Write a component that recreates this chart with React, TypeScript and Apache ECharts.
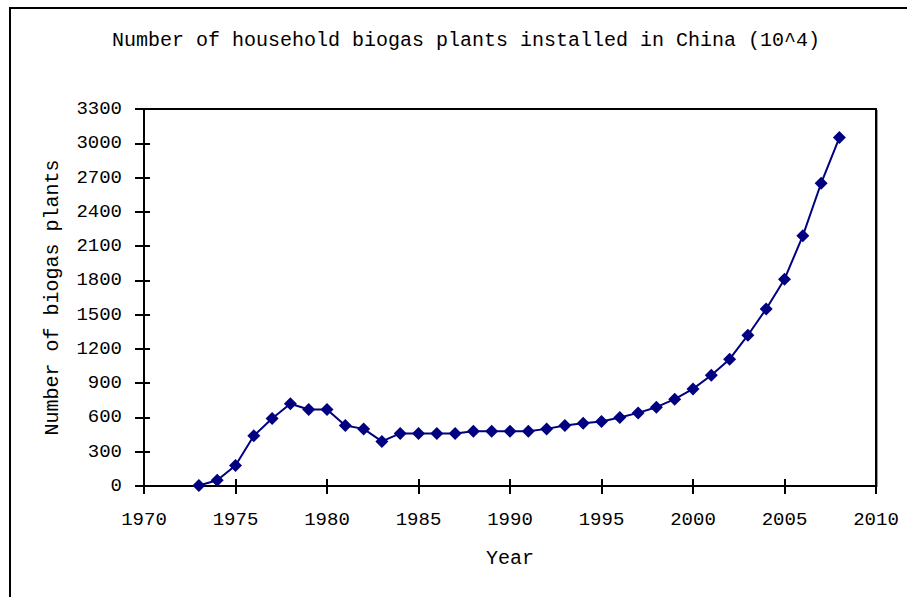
import React, { useEffect, useRef } from "react";
import * as echarts from "echarts";

const titleText = "Number of household biogas plants installed in China (10^4)";
const yAxisName = "Number of biogas plants";
const xAxisName = "Year";
const years = [
  1973, 1974, 1975, 1976, 1977, 1978, 1979, 1980, 1981, 1982, 1983, 1984,
  1985, 1986, 1987, 1988, 1989, 1990, 1991, 1992, 1993, 1994, 1995, 1996,
  1997, 1998, 1999, 2000, 2001, 2002, 2003, 2004, 2005, 2006, 2007, 2008,
];
const plants = [
  5, 50, 180, 440, 590, 720, 670, 670, 530, 500, 390, 460,
  460, 460, 460, 480, 480, 480, 480, 500, 530, 550, 565, 600,
  640, 690, 760, 850, 970, 1110, 1320, 1550, 1810, 2190, 2650, 3050,
];

const FONT = "'Liberation Mono', 'DejaVu Sans Mono', monospace";

export default function App() {
  const ref = useRef<HTMLDivElement>(null);
  useEffect(() => {
    if (!ref.current) return;
    const chart = echarts.init(ref.current, null, { renderer: "svg" });
    const data = years.map((y, i) => [y, plants[i]]);
    const plain = (v: number) => String(v);
    const axisBase = {
      type: "value" as const,
      min: 1970,
      max: 2010,
      interval: 5,
      splitLine: { show: false },
      axisLine: { show: true, lineStyle: { color: "#000", width: 2 } },
    };
    const yBase = {
      type: "value" as const,
      min: 0,
      max: 3300,
      interval: 300,
      splitLine: { show: false },
      axisLine: { show: true, lineStyle: { color: "#000", width: 2 } },
    };
    chart.setOption({
      animation: false,
      backgroundColor: "#fff",
      title: {
        text: titleText,
        left: 107,
        top: 25,
        textStyle: { fontFamily: FONT, fontSize: 20, fontWeight: "normal", color: "#000" },
      },
      grid: {
        left: 144,
        top: 109,
        width: 732,
        height: 377,
        show: true,
        borderColor: "#000",
        borderWidth: 2,
        backgroundColor: "transparent",
      },
      xAxis: [
        {
          ...axisBase,
          position: "bottom",
          name: xAxisName,
          nameLocation: "middle",
          nameGap: 62,
          nameTextStyle: { fontFamily: FONT, fontSize: 20, color: "#000" },
          axisTick: { show: true, inside: false, length: 8, lineStyle: { color: "#000", width: 2 } },
          axisLabel: { fontFamily: FONT, fontSize: 19, color: "#000", margin: 24, formatter: plain },
        },
        {
          ...axisBase,
          position: "bottom",
          axisTick: { show: true, inside: true, length: 7, lineStyle: { color: "#000", width: 2 } },
          axisLabel: { show: false },
        },
      ],
      yAxis: [
        {
          ...yBase,
          position: "left",
          name: yAxisName,
          nameLocation: "middle",
          nameGap: 82,
          nameRotate: 90,
          nameTextStyle: { fontFamily: FONT, fontSize: 20, color: "#000" },
          axisTick: { show: true, inside: false, length: 9, lineStyle: { color: "#000", width: 2 } },
          axisLabel: { fontFamily: FONT, fontSize: 19, color: "#000", margin: 22, formatter: plain },
        },
        {
          ...yBase,
          position: "left",
          axisTick: { show: true, inside: true, length: 6, lineStyle: { color: "#000", width: 2 } },
          axisLabel: { show: false },
        },
      ],
      graphic: [
        {
          type: "rect",
          shape: { x: 10, y: 8, width: 1000, height: 700 },
          style: { fill: "none", stroke: "#000", lineWidth: 2 },
          silent: true,
        },
        {
          type: "line",
          shape: { x1: 877.5, y1: 110, x2: 877.5, y2: 487 },
          style: { stroke: "#999", lineWidth: 1 },
          silent: true,
        },
      ],
      series: [
        {
          type: "line",
          xAxisIndex: 0,
          yAxisIndex: 0,
          data,
          symbol: "diamond",
          symbolSize: 13,
          lineStyle: { color: "#000080", width: 2 },
          itemStyle: { color: "#000080" },
        },
      ],
    });
    return () => chart.dispose();
  }, []);
  return (
    <div
      ref={ref}
      style={{ position: "fixed", left: 0, top: 0, width: 907, height: 597, background: "#fff" }}
    />
  );
}
